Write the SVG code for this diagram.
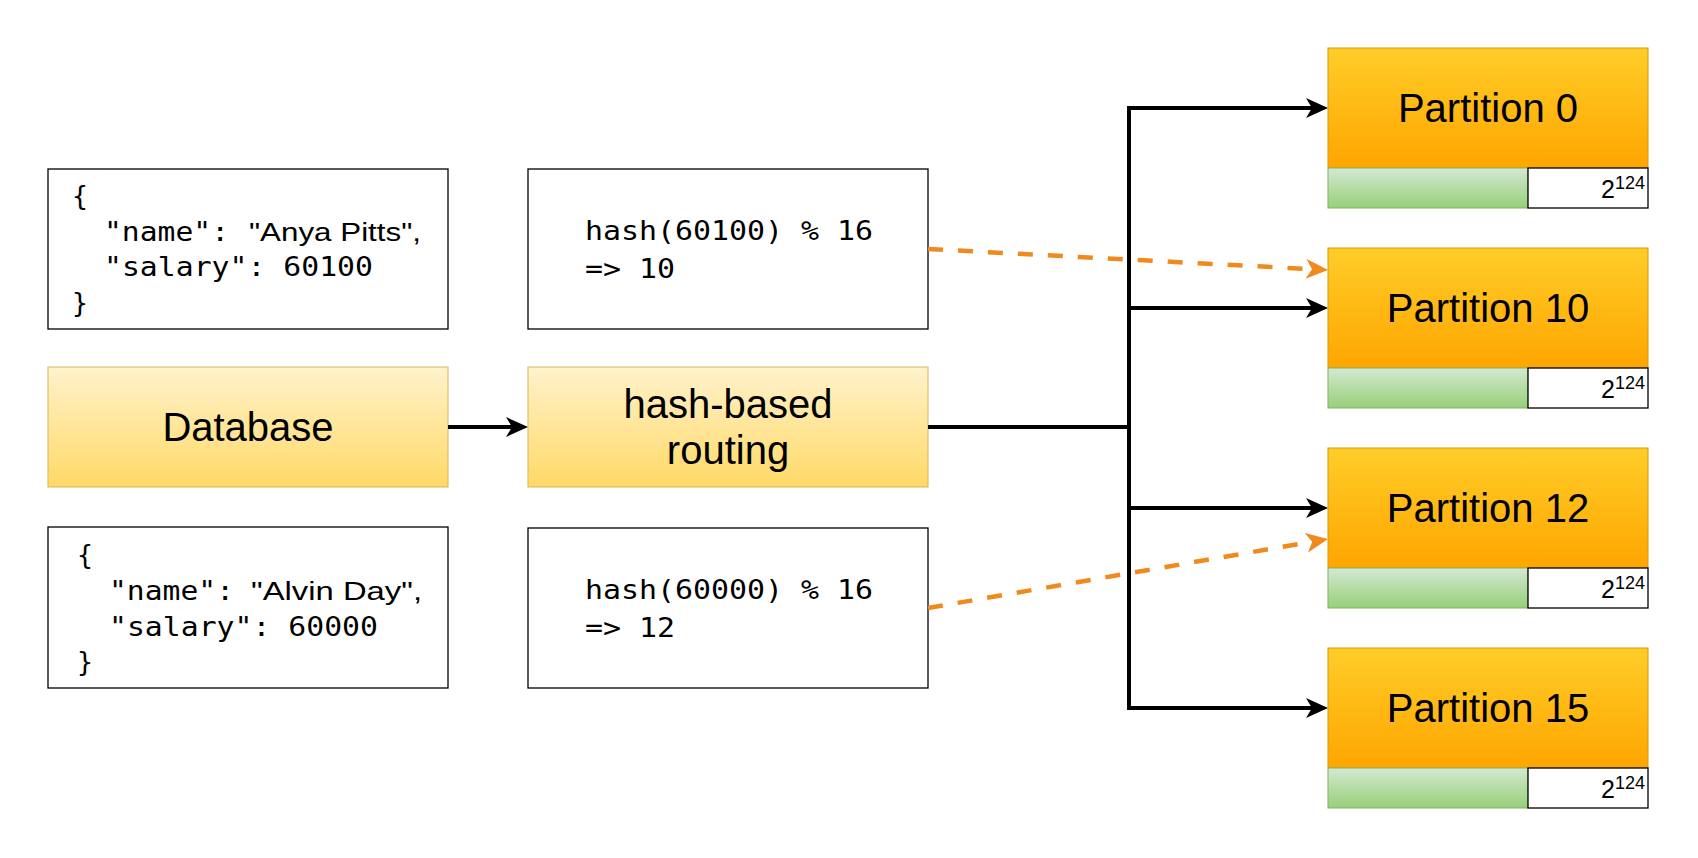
<svg xmlns="http://www.w3.org/2000/svg" width="1698" height="858" viewBox="0 0 1698 858">
<defs>
<linearGradient id="gYellow" x1="0" y1="0" x2="0" y2="1"><stop offset="0" stop-color="#FFF2CC"/><stop offset="1" stop-color="#FFD966"/></linearGradient>
<linearGradient id="gOrange" x1="0" y1="0" x2="0" y2="1"><stop offset="0" stop-color="#FFCD28"/><stop offset="1" stop-color="#FFA500"/></linearGradient>
<linearGradient id="gGreen" x1="0" y1="0" x2="0" y2="1"><stop offset="0" stop-color="#D5E8D4"/><stop offset="1" stop-color="#97D077"/></linearGradient>
<marker id="arrB" viewBox="0 0 22 20" refX="6" refY="10" markerWidth="22" markerHeight="20" markerUnits="userSpaceOnUse" orient="auto"><path d="M0,0 L22,10 L0,20 L6,10 Z" fill="#000"/></marker>
<marker id="arrO" viewBox="0 0 22 20" refX="6" refY="10" markerWidth="22" markerHeight="20" markerUnits="userSpaceOnUse" orient="auto"><path d="M0,0 L22,10 L0,20 L6,10 Z" fill="#F08A1C"/></marker>
</defs>
<style>
.box{fill:#fff;stroke:#000;stroke-width:1.3}
.yel{fill:url(#gYellow);stroke:#D6B656;stroke-width:1}
.org{fill:url(#gOrange);stroke:#D79B00;stroke-width:1}
.grn{fill:url(#gGreen);stroke:#82B366;stroke-width:1}
.wht{fill:#fff;stroke:#000;stroke-width:1.3}
.mono{font-family:"DejaVu Sans Mono",monospace;font-size:26px;fill:#000}
.sans{font-family:"Liberation Sans",Arial,sans-serif;font-size:26px;fill:#000}
.big{font-family:"Liberation Sans",Arial,sans-serif;font-size:40px;fill:#000;text-anchor:middle}
.sup{font-family:"Liberation Sans",Arial,sans-serif;font-size:25px;fill:#000;text-anchor:end}
.blk{fill:none;stroke:#000;stroke-width:4}
.dash{fill:none;stroke:#F08A1C;stroke-width:4.5;stroke-dasharray:15 15}
</style>
<rect width="1698" height="858" fill="#fff"/>

<g id="json1">
<rect class="box" x="48" y="169" width="400" height="160"/>
<text class="mono" x="72" y="205" textLength="16" lengthAdjust="spacingAndGlyphs">{</text>
<text class="mono" x="104" y="241" textLength="125" lengthAdjust="spacingAndGlyphs">"name":</text>
<text class="sans" x="249" y="241" textLength="172" lengthAdjust="spacingAndGlyphs">"Anya Pitts",</text>
<text class="mono" x="104" y="276" textLength="269" lengthAdjust="spacingAndGlyphs">"salary": 60100</text>
<text class="mono" x="72" y="312" textLength="16" lengthAdjust="spacingAndGlyphs">}</text>
</g>

<g id="hash1">
<rect class="box" x="528" y="169" width="400" height="160"/>
<text class="mono" x="585" y="240" textLength="288" lengthAdjust="spacingAndGlyphs">hash(60100) % 16</text>
<text class="mono" x="585" y="278" textLength="90" lengthAdjust="spacingAndGlyphs">=&gt; 10</text>
</g>

<g id="database">
<rect class="yel" x="48" y="367" width="400" height="120"/>
<text class="big" x="248" y="441">Database</text>
</g>

<g id="routing">
<rect class="yel" x="528" y="367" width="400" height="120"/>
<text class="big" x="728" y="418">hash-based</text>
<text class="big" x="728" y="464">routing</text>
</g>

<g id="json2">
<rect class="box" x="48" y="527" width="400" height="161"/>
<text class="mono" x="77" y="564" textLength="16" lengthAdjust="spacingAndGlyphs">{</text>
<text class="mono" x="109" y="600" textLength="125" lengthAdjust="spacingAndGlyphs">"name":</text>
<text class="sans" x="251" y="600" textLength="171" lengthAdjust="spacingAndGlyphs">"Alvin Day",</text>
<text class="mono" x="109" y="636" textLength="269" lengthAdjust="spacingAndGlyphs">"salary": 60000</text>
<text class="mono" x="77" y="671" textLength="16" lengthAdjust="spacingAndGlyphs">}</text>
</g>

<g id="hash2">
<rect class="box" x="528" y="528" width="400" height="160"/>
<text class="mono" x="585" y="599" textLength="288" lengthAdjust="spacingAndGlyphs">hash(60000) % 16</text>
<text class="mono" x="585" y="637" textLength="90" lengthAdjust="spacingAndGlyphs">=&gt; 12</text>
</g>

<g id="partition0">
<rect class="org" x="1328" y="48" width="320" height="120"/>
<text class="big" x="1488" y="122">Partition 0</text>
<rect class="grn" x="1328" y="168" width="200" height="40"/>
<rect class="wht" x="1528" y="168" width="120" height="40"/>
<text class="sup" x="1645" y="198">2<tspan dy="-9" font-size="18">124</tspan></text>
</g>

<g id="partition10">
<rect class="org" x="1328" y="248" width="320" height="120"/>
<text class="big" x="1488" y="322">Partition 10</text>
<rect class="grn" x="1328" y="368" width="200" height="40"/>
<rect class="wht" x="1528" y="368" width="120" height="40"/>
<text class="sup" x="1645" y="398">2<tspan dy="-9" font-size="18">124</tspan></text>
</g>

<g id="partition12">
<rect class="org" x="1328" y="448" width="320" height="120"/>
<text class="big" x="1488" y="522">Partition 12</text>
<rect class="grn" x="1328" y="568" width="200" height="40"/>
<rect class="wht" x="1528" y="568" width="120" height="40"/>
<text class="sup" x="1645" y="598">2<tspan dy="-9" font-size="18">124</tspan></text>
</g>

<g id="partition15">
<rect class="org" x="1328" y="648" width="320" height="120"/>
<text class="big" x="1488" y="722">Partition 15</text>
<rect class="grn" x="1328" y="768" width="200" height="40"/>
<rect class="wht" x="1528" y="768" width="120" height="40"/>
<text class="sup" x="1645" y="798">2<tspan dy="-9" font-size="18">124</tspan></text>
</g>

<g id="connectors">
<path class="blk" d="M448,427 H512" marker-end="url(#arrB)"/>
<path class="blk" d="M928,427 H1129 V108 H1312" marker-end="url(#arrB)"/>
<path class="blk" d="M928,427 H1129 V308 H1312" marker-end="url(#arrB)"/>
<path class="blk" d="M928,427 H1129 V508 H1312" marker-end="url(#arrB)"/>
<path class="blk" d="M928,427 H1129 V708 H1312" marker-end="url(#arrB)"/>
<path class="dash" d="M928,249 L1312,269.2" marker-end="url(#arrO)"/>
<path class="dash" d="M928,608 L1312.2,541.7" marker-end="url(#arrO)"/>
</g>
</svg>
